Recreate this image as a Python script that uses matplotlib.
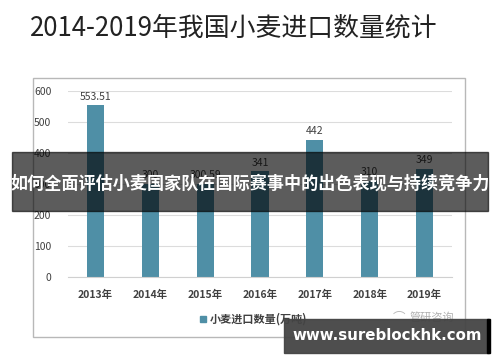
import matplotlib
matplotlib.use("Agg")
import matplotlib.pyplot as plt
from matplotlib.patches import Rectangle

plt.rcParams['font.family'] = ['Noto Sans CJK SC', 'DejaVu Sans']

# --- data ---
years = ['2013年', '2014年', '2015年', '2016年', '2017年', '2018年', '2019年']
imports = [553.51, 300, 300.59, 341, 442, 310, 349]
value_labels = ['553.51', '300', '300.59', '341', '442', '310', '349']
yticks = [0, 100, 200, 300, 400, 500, 600]

W, H = 500, 362
fig = plt.figure(figsize=(W / 100, H / 100), dpi=100)
fig.patch.set_facecolor('white')

def px(x0, y0, x1, y1):
    # pixel box (top-left origin) -> figure fraction rect
    return [x0 / W, 1 - y1 / H, (x1 - x0) / W, (y1 - y0) / H]

# title
fig.text(30 / W, 1 - 28 / H, '2014-2019年我国小麦进口数量统计', fontsize=18.6,
         color='#222222', va='center', ha='left')

# chart border
fig.patches.append(Rectangle((33 / W, 1 - 337 / H), 432 / W, 259 / H,
                             transform=fig.transFigure, fill=False,
                             edgecolor='#b8b8b8', linewidth=1))

ax = fig.add_axes(px(68, 91, 452, 277))
bar_color = '#4f8fa6'
x = range(len(years))
ax.bar(x, imports, width=0.31, color=bar_color, zorder=2)
for i, (v, lab) in enumerate(zip(imports, value_labels)):
    ax.text(i, v + 12, lab, ha='center', va='bottom', fontsize=7.5, color='#404040')

ax.set_xlim(-0.5, len(years) - 0.5)
ax.set_ylim(0, 600)
ax.set_yticks(yticks)
ax.set_yticklabels([str(t) for t in yticks], fontsize=7.5, color='#404040')
ax.set_xticks(list(x))
ax.set_xticklabels(years, fontsize=7.5, color='#404040', fontweight='bold')
ax.tick_params(axis='both', length=0)
ax.tick_params(axis='y', pad=12)
ax.tick_params(axis='x', pad=9)
ax.grid(axis='y', color='#dcdcdc', linewidth=0.8, zorder=0)
for s in ['top', 'right', 'left']:
    ax.spines[s].set_visible(False)
ax.spines['bottom'].set_color('#d0d0d0')

# legend
fig.patches.append(Rectangle((200 / W, 1 - 322 / H), 6 / W, 6 / H,
                             transform=fig.transFigure, color=bar_color))
fig.text(210 / W, 1 - 319 / H, '小麦进口数量(万吨)', fontsize=8, color='#404040',
         fontweight='bold', va='center', ha='left')

# source watermark
fig.text(410 / W, 1 - 318 / H, '管研咨询', fontsize=8, color='#b0b0b0',
         va='center', ha='left')
fig.text(393 / W, 1 - 318 / H, '⌒', fontsize=9, color='#b8b8b8',
         va='center', ha='left')

# overlay banner
fig.patches.append(Rectangle((12 / W, 1 - 211 / H), 476 / W, 59 / H,
                             transform=fig.transFigure, color='black',
                             alpha=0.64, zorder=5))
fig.text(250 / W, 1 - 184 / H, '如何全面评估小麦国家队在国际赛事中的出色表现与持续竞争力',
         fontsize=12.3, fontweight='bold', color='white', ha='center',
         va='center', zorder=6)

# url banner
fig.patches.append(Rectangle((284 / W, 1 - 353 / H), 205 / W, 34 / H,
                             transform=fig.transFigure, color='#444444',
                             alpha=0.95, zorder=5))
fig.patches.append(Rectangle((487 / W, 1 - 353 / H), 3 / W, 34 / H,
                             transform=fig.transFigure, color='black', zorder=6))
fig.text(387 / W, 1 - 336 / H, 'www.sureblockhk.com', fontsize=10.8,
         fontweight='bold', color='white', ha='center', va='center',
         family='DejaVu Sans', zorder=6)

fig.savefig('out.png', dpi=100)
